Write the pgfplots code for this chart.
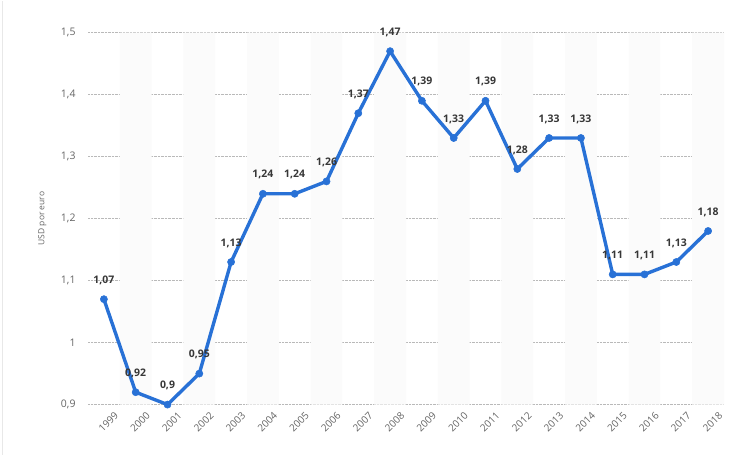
\documentclass[border=0pt]{standalone}
\usepackage{fontspec}
\setmainfont{Open Sans}
\usepackage{pgfplots}
\pgfplotsset{compat=1.18}
\definecolor{lineblue}{RGB}{40,113,214}
\definecolor{band}{RGB}{251,251,251}
\definecolor{tickgray}{RGB}{100,100,100}
\definecolor{labeldark}{RGB}{55,55,55}
\begin{document}
\begin{tikzpicture}[x=1bp,y=1bp]
\path (0,0) rectangle (735,454);
\draw[gray!18, line width=1.2bp] (2.5,0)--(2.5,454);
\begin{axis}[
  at={(88bp,50bp)}, anchor=south west,
  scale only axis, width=636bp, height=372bp,
  xmin=-0.5, xmax=19.5, ymin=0.9, ymax=1.5,
  axis line style={draw=none},
  major tick length=0pt,
  xtick={0,...,19},
  xticklabels={1999,2000,2001,2002,2003,2004,2005,2006,2007,2008,2009,2010,2011,2012,2013,2014,2015,2016,2017,2018},
  ytick={0.9,1,1.1,1.2,1.3,1.4,1.5},
  /pgf/number format/use comma,
  /pgf/number format/assume math mode=true,
  ymajorgrids,
  grid style={densely dotted, gray!55, line width=0.6bp},
  yticklabel style={font=\fontsize{10.5}{12}\selectfont, text=tickgray, xshift=-9bp},
  xticklabel style={font=\fontsize{10}{12}\selectfont, text=tickgray, rotate=45, anchor=north east, inner sep=0.5bp, xshift=3bp, yshift=-11bp},
  ylabel={USD por euro},
  ylabel style={font=\fontsize{8.5}{10}\selectfont, text=tickgray, at={(axis description cs:-0.072,0.5)}, anchor=center},
  clip=false,
]
\addplot[ybar, bar width=1, bar shift=0, fill=band, draw=none, forget plot]
  coordinates {(1,1.5) (3,1.5) (5,1.5) (7,1.5) (9,1.5) (11,1.5) (13,1.5) (15,1.5) (17,1.5) (19,1.5)};
\addplot[lineblue, line width=3.4bp, mark=*, mark size=3.6bp, mark options={line width=0.5bp, fill=lineblue},
  nodes near coords, point meta=explicit symbolic,
  every node near coord/.style={font=\bfseries\fontsize{10.5}{12}\selectfont, text=labeldark, anchor=south, yshift=11bp}]
  table[meta=label]{
x y label
0 1.07 1,07
1 0.92 0,92
2 0.90 0,9
3 0.95 0,95
4 1.13 1,13
5 1.24 1,24
6 1.24 1,24
7 1.26 1,26
8 1.37 1,37
9 1.47 1,47
10 1.39 1,39
11 1.33 1,33
12 1.39 1,39
13 1.28 1,28
14 1.33 1,33
15 1.33 1,33
16 1.11 1,11
17 1.11 1,11
18 1.13 1,13
19 1.18 1,18
};
\end{axis}
\end{tikzpicture}
\end{document}
